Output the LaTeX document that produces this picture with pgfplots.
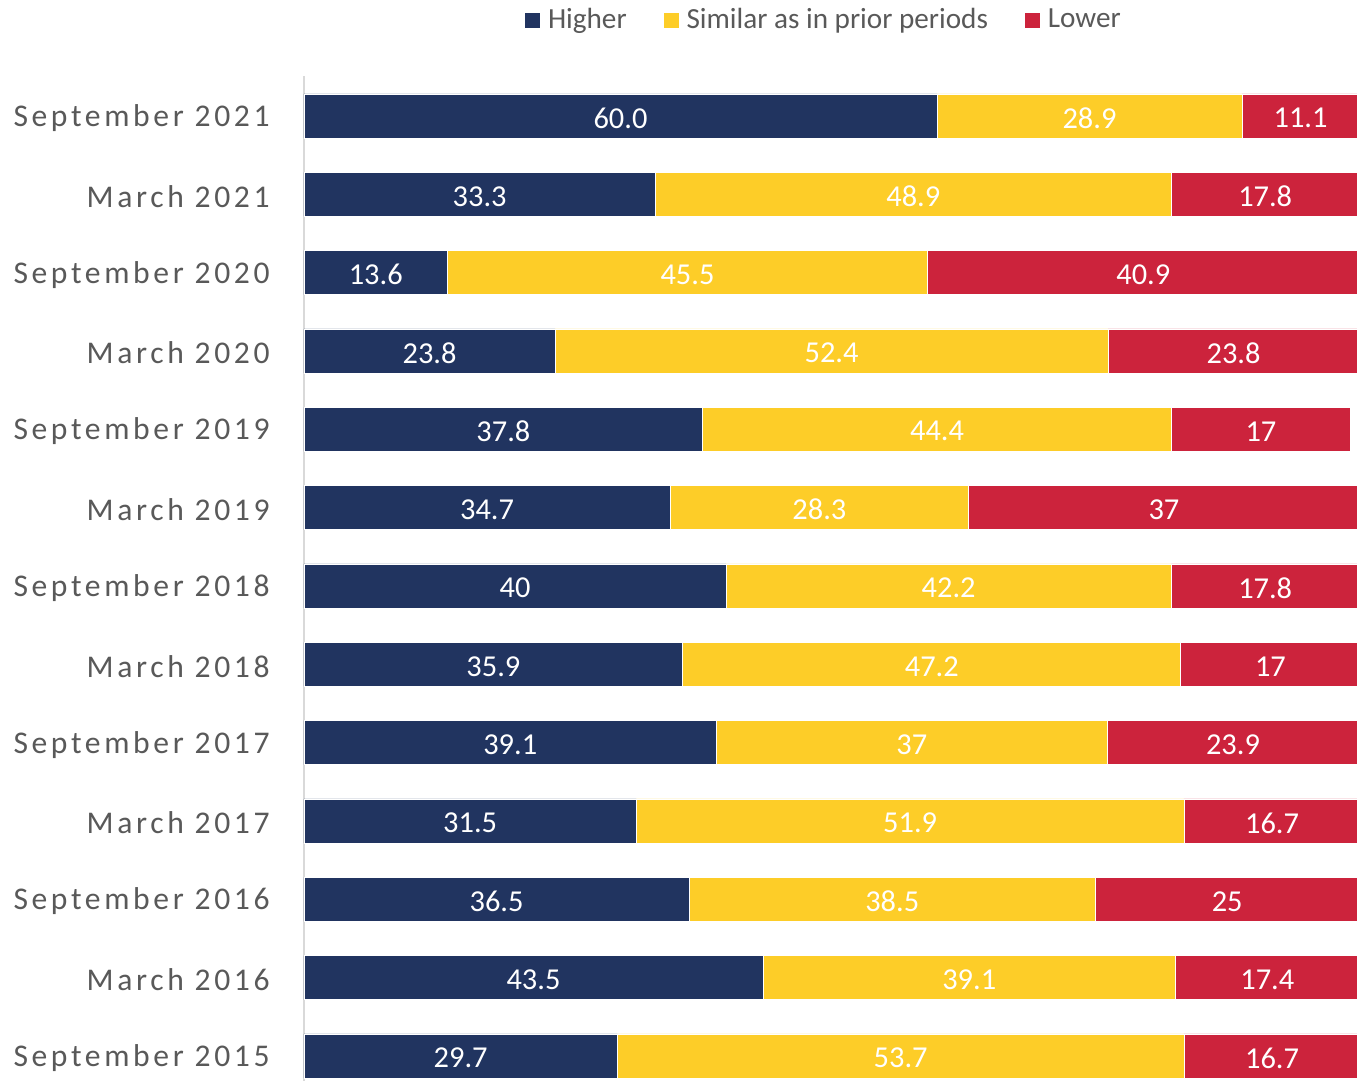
\documentclass[border=0pt]{standalone}
\usepackage{pgfplots}
\usepackage{pgfplotstable}
\pgfplotsset{compat=1.18}
\usepackage{fontspec}
\setmainfont{Carlito}
\newfontfamily\catfont[LetterSpace=11.5]{Carlito}
\definecolor{cnavy}{RGB}{33,52,96}
\definecolor{cyel}{RGB}{253,205,40}
\definecolor{cred}{RGB}{204,35,60}
\definecolor{ctxt}{RGB}{89,89,89}
\definecolor{cax}{RGB}{217,217,217}
\pgfplotstableread{
y h s l hl sl ll
0 29.7 53.7 16.7 29.7 53.7 16.7
1 43.5 39.1 17.4 43.5 39.1 17.4
2 36.5 38.5 25 36.5 38.5 25
3 31.5 51.9 16.7 31.5 51.9 16.7
4 39.1 37 23.9 39.1 37 23.9
5 35.9 47.2 17 35.9 47.2 17
6 40 42.2 17.8 40 42.2 17.8
7 34.7 28.3 37 34.7 28.3 37
8 37.8 44.4 17 37.8 44.4 17
9 23.8 52.4 23.8 23.8 52.4 23.8
10 13.6 45.5 40.9 13.6 45.5 40.9
11 33.3 48.9 17.8 33.3 48.9 17.8
12 60.0 28.9 11.1 60.0 28.9 11.1
}\datatable
\pgfplotsset{common/.style={
  scale only axis,
  width=526.5pt, height=502.5pt,
  xmin=0, xmax=99.8,
  ymin=-0.32, ymax=12.51}}
\begin{document}
\begin{tikzpicture}
\begin{axis}[
  name=ax,
  common,
  xbar stacked,
  bar width=22pt,
  axis x line=none,
  axis y line*=left,
  y axis line style={draw=cax, line width=1pt, -},
  ytick={0,...,12},
  yticklabels={September 2015,March 2016,September 2016,March 2017,September 2017,March 2018,September 2018,March 2019,September 2019,March 2020,September 2020,March 2021,September 2021},
  major tick length=0pt,
  yticklabel style={font=\catfont\fontsize{15.8}{18}\selectfont, text=ctxt, anchor=east, inner sep=0pt, xshift=-17pt, yshift=-1pt},
  legend columns=3,
  legend style={draw=none, fill=none, at={(0.4924,1)}, anchor=center, yshift=28pt,
     font=\fontsize{14.6}{17}\selectfont, text=ctxt, nodes={inner sep=0pt},
     /tikz/every even column/.append style={column sep=18pt},
     /tikz/every odd column/.append style={column sep=3.5pt}},
  legend image code/.code={\fill[#1] (0pt,-4pt) rectangle (8pt,4pt);},
]
\addplot[fill=cnavy, draw=white, line width=0.4pt] table[x=h, y=y] {\datatable};
\addplot[fill=cyel, draw=white, line width=0.4pt] table[x=s, y=y] {\datatable};
\addplot[fill=cred, draw=white, line width=0.4pt] table[x=l, y=y] {\datatable};
\legend{Higher,Similar as in prior periods,Lower}
\end{axis}
\begin{axis}[
  common,
  hide axis,
  clip=false,
  point meta=explicit symbolic,
  nodes near coords,
  every node near coord/.style={anchor=center, text=white, font=\fontsize{15.2}{18}\selectfont, inner sep=0pt, yshift=-1pt},
]
\addplot[draw=none, mark=none] table[x expr=\thisrow{h}/2, y=y, meta=hl] {\datatable};
\addplot[draw=none, mark=none] table[x expr=\thisrow{h}+\thisrow{s}/2, y=y, meta=sl] {\datatable};
\addplot[draw=none, mark=none] table[x expr=\thisrow{h}+\thisrow{s}+\thisrow{l}/2, y=y, meta=ll] {\datatable};
\end{axis}
\pgfresetboundingbox
\path ([xshift=-152pt]ax.south west) rectangle ([yshift=38pt]ax.north east);
\end{tikzpicture}
\end{document}
